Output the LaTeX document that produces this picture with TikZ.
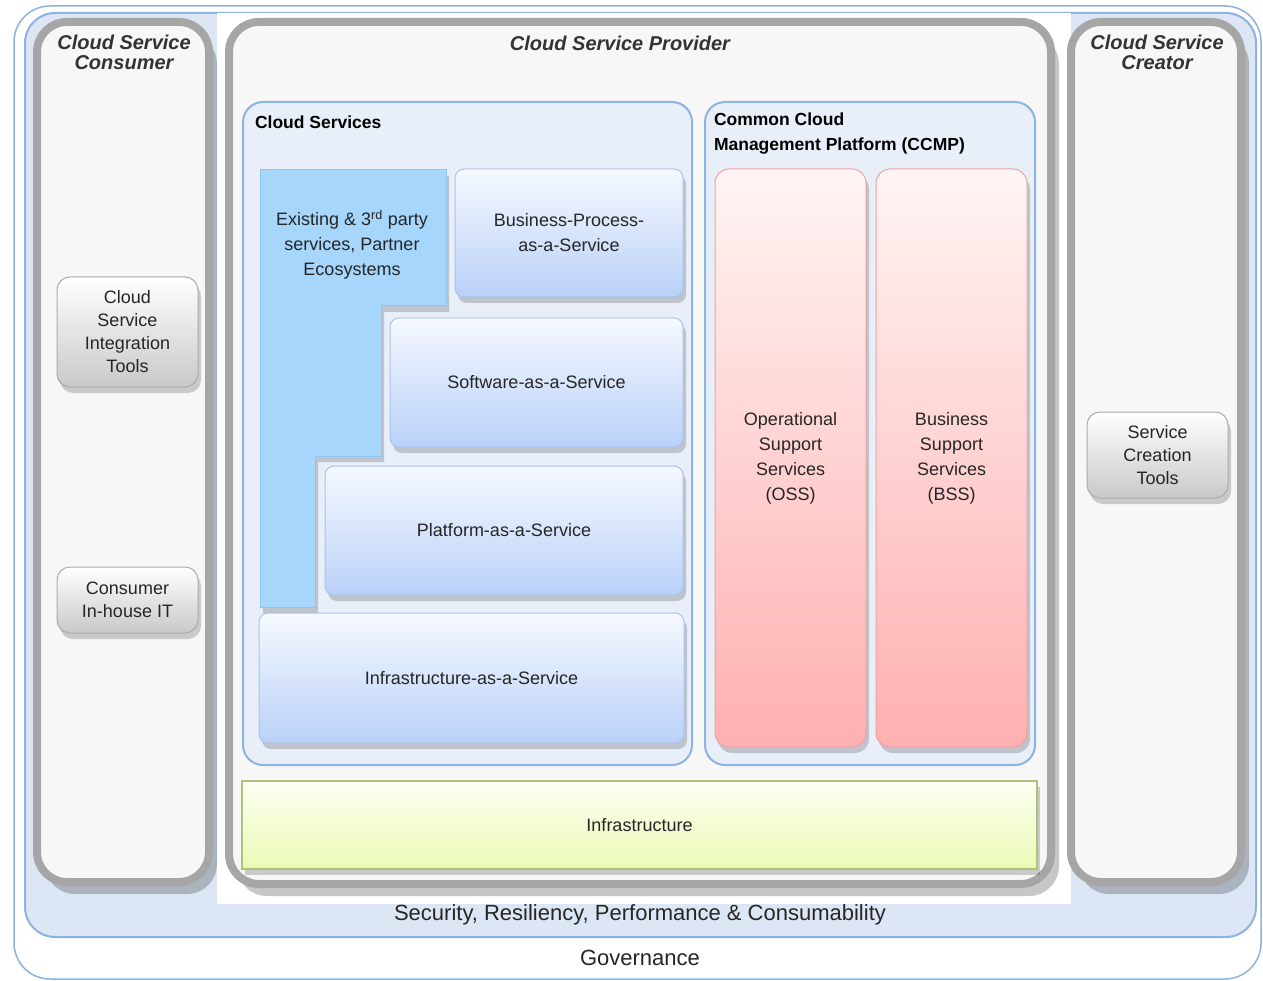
\documentclass[tikz,border=0pt]{standalone}
\usepackage{fontspec}
\setmainfont{Liberation Sans}
\usetikzlibrary{shadows}
\definecolor{govline}{HTML}{8DB3E2}
\definecolor{secfill}{HTML}{DCE6F4}
\definecolor{colgray}{HTML}{A6A6A6}
\definecolor{colfill}{HTML}{F7F7F7}
\definecolor{grpfill}{HTML}{E9EFF9}
\definecolor{grpline}{HTML}{8DB3E2}
\definecolor{svctop}{HTML}{F6F9FF}
\definecolor{svcbot}{HTML}{B9D1F8}
\definecolor{svcline}{HTML}{A9C3EC}
\definecolor{exfill}{HTML}{A6D6FB}
\definecolor{exline}{HTML}{8CC6F2}
\definecolor{pinktop}{HTML}{FFF4F4}
\definecolor{pinkbot}{HTML}{FFB0B0}
\definecolor{pinkline}{HTML}{E9A3A3}
\definecolor{infratop}{HTML}{FDFFF2}
\definecolor{infrabot}{HTML}{EBFAB5}
\definecolor{infraline}{HTML}{A8C47C}
\definecolor{toolbot}{HTML}{C9C9C9}
\definecolor{toolline}{HTML}{ABABAB}
\definecolor{txt}{HTML}{262626}
\definecolor{ttl}{HTML}{333333}
\begin{document}
\begin{tikzpicture}[x=1pt,y=-1pt,
  every node/.style={inner sep=0pt, outer sep=0pt, text=txt},
  govbox/.style={draw=govline, line width=1.5pt, fill=white, rounded corners=36pt},
  secbox/.style={draw=govline, line width=2pt, fill=secfill, rounded corners=30pt},
  column/.style={draw=colgray, line width=8pt, fill=colfill, rounded corners=30pt,
     general shadow={fill=black, opacity=0.22, shadow xshift=8pt, shadow yshift=-12pt}},
  coltitle/.style={font=\bfseries\itshape\fontsize{20}{20}\selectfont, text=ttl, align=center, anchor=north},
  group/.style={draw=grpline, line width=2pt, fill=grpfill, rounded corners=20pt, anchor=north west},
  grptitle/.style={font=\bfseries\fontsize{17.5}{25}\selectfont, text=black, align=left, anchor=north west},
  small shadow/.style={general shadow={fill=black, opacity=0.18, shadow xshift=3pt, shadow yshift=-6pt}},
  svc/.style={draw=svcline, line width=1pt, top color=svctop, bottom color=svcbot, rounded corners=9pt,
     anchor=north west, align=center, font=\fontsize{18}{25}\selectfont, small shadow},
  pinkbox/.style={draw=pinkline, line width=1pt, top color=pinktop, bottom color=pinkbot, rounded corners=14pt,
     anchor=north west, align=center, font=\fontsize{18}{25}\selectfont, small shadow},
  infrabox/.style={draw=infraline, line width=1.2pt, top color=infratop, bottom color=infrabot,
     anchor=north west, align=center, font=\fontsize{18}{25}\selectfont, small shadow},
  toolbox/.style={draw=toolline, line width=1pt, top color=white, bottom color=toolbot, rounded corners=13pt,
     anchor=north west, align=center, font=\fontsize{18}{23}\selectfont, small shadow},
  existing/.style={draw=exline, line width=1pt, fill=exfill, small shadow},
  bigtext/.style={font=\fontsize{22}{26}\selectfont}
]
\useasboundingbox (0,0) rectangle (1263,981);
% Governance and security layers
\path[govbox] (14,6) rectangle (1261,979);
\path[secbox] (25,13) rectangle (1256,937);
\fill[white] (217,13) rectangle (1071,904);
\node[bigtext] (security) at (640,915) {Security, Resiliency, Performance \& Consumability};
\node[bigtext] (governance) at (640,958) {Governance};
% Columns
\node[column, anchor=north west, minimum width=172pt, minimum height=860pt] (consumer) at (37,22) {};
\node[column, anchor=north west, minimum width=822pt, minimum height=862pt] (provider) at (229,22) {};
\node[column, anchor=north west, minimum width=170pt, minimum height=860pt] (creator) at (1071,22) {};
\node[coltitle] (consumertitle) at (124,35) {Cloud Service\\Consumer};
\node[coltitle] (providertitle) at (620,36) {Cloud Service Provider};
\node[coltitle] (creatortitle) at (1157,35) {Cloud Service\\Creator};
% Groups
\node[group, minimum width=449pt, minimum height=663pt] (cloudservices) at (243,102) {};
\node[group, minimum width=330pt, minimum height=663pt] (ccmp) at (705,102) {};
\node[grptitle] (cstitle) at (255,116) {Cloud Services};
\node[grptitle] (ccmptitle) at (714,113) {Common Cloud\\Management Platform (CCMP)};
% Existing & 3rd party L-shape
\path[existing] (260,170) -- (446,170) -- (446,306) -- (381,306) -- (381,456) -- (315,456) -- (315,607) -- (260,607) -- cycle;
\node[align=center, font=\fontsize{18}{25}\selectfont] (existing) at (352,245) {Existing \& 3\textsuperscript{rd} party\\services, Partner\\Ecosystems};
% Service layers
\node[svc, minimum width=228pt, minimum height=128pt] (bpaas) at (455,169) {Business-Process-\\as-a-Service};
\node[svc, minimum width=293pt, minimum height=129pt] (saas) at (390,318) {Software-as-a-Service};
\node[svc, minimum width=358pt, minimum height=129pt] (paas) at (325,466) {Platform-as-a-Service};
\node[svc, minimum width=425pt, minimum height=130pt] (iaas) at (259,613) {Infrastructure-as-a-Service};
% OSS / BSS
\node[pinkbox, minimum width=151pt, minimum height=578pt] (oss) at (715,169) {Operational\\Support\\Services\\(OSS)};
\node[pinkbox, minimum width=151pt, minimum height=578pt] (bss) at (876,169) {Business\\Support\\Services\\(BSS)};
% Infrastructure
\node[infrabox, minimum width=795pt, minimum height=88pt] (infra) at (242,781) {Infrastructure};
% Tools
\node[toolbox, minimum width=141pt, minimum height=110pt] (integration) at (57,277) {Cloud\\Service\\Integration\\Tools};
\node[toolbox, minimum width=141pt, minimum height=66pt] (inhouse) at (57,567) {Consumer\\In-house IT};
\node[toolbox, minimum width=141pt, minimum height=86pt] (creation) at (1087,412) {Service\\Creation\\Tools};
\end{tikzpicture}
\end{document}
